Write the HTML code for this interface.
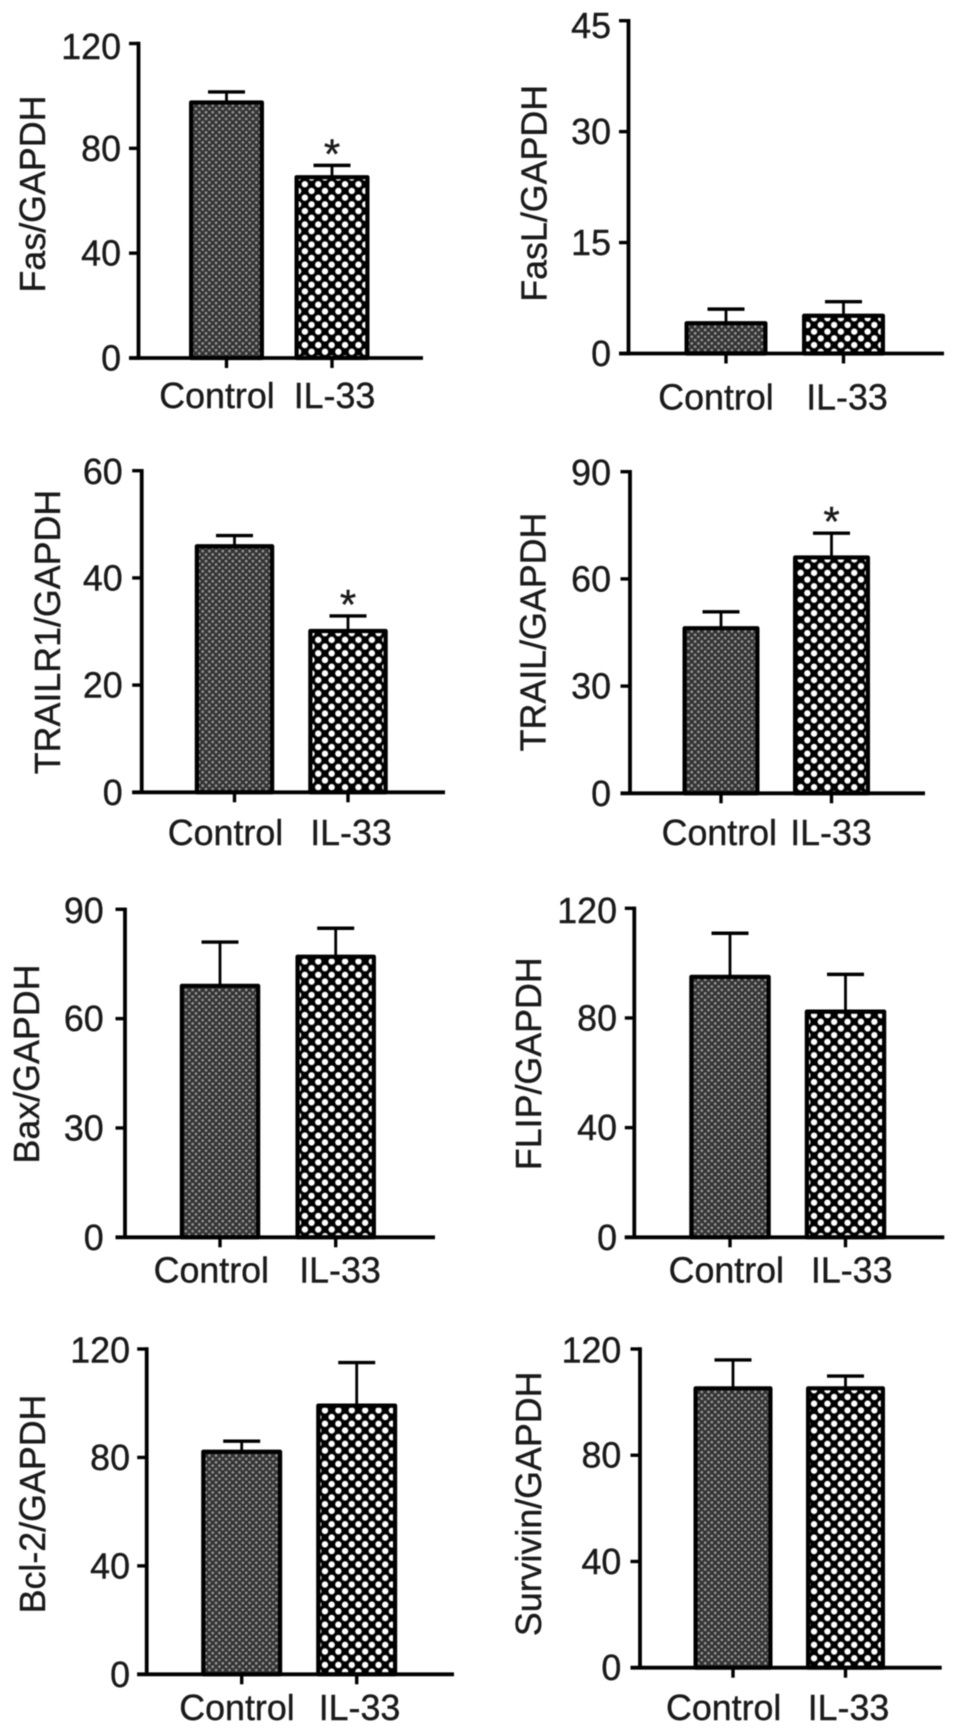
<!DOCTYPE html>
<html lang="en">
<head>
<meta charset="utf-8">
<title>Relative expression of apoptosis-related genes</title>
<style>
html,body{margin:0;padding:0;background:#fff;}
body{width:969px;height:1736px;overflow:hidden;}
svg{display:block;filter:blur(0.6px);}
text{font-family:"Liberation Sans",Arial,sans-serif;font-size:35.8px;fill:#1a1a1a;stroke:#1a1a1a;stroke-width:0.4px;}
</style>
</head>
<body>
<svg id="figure" xmlns="http://www.w3.org/2000/svg" width="969" height="1736" viewBox="0 0 969 1736">
  <defs>
    <pattern id="fill-control" patternUnits="userSpaceOnUse" width="6.7" height="6.7">
      <rect width="6.7" height="6.7" fill="#333"/>
      <circle cx="1.67" cy="1.67" r="1.35" fill="#999"/>
      <circle cx="5.02" cy="5.02" r="1.35" fill="#999"/>
    </pattern>
    <pattern id="fill-il33" patternUnits="userSpaceOnUse" width="13.4" height="13.4">
      <rect width="13.4" height="13.4" fill="#000"/>
      <circle cx="3.35" cy="3.35" r="3.2" fill="#fff"/>
      <circle cx="10.05" cy="10.05" r="3.2" fill="#fff"/>
    </pattern>
  </defs>
</svg>
<script>
// ---- Chart data ----
const categories = ["Control", "IL-33"];
const panelTitles = ["Fas/GAPDH", "FasL/GAPDH", "TRAILR1/GAPDH", "TRAIL/GAPDH", "Bax/GAPDH", "FLIP/GAPDH", "Bcl-2/GAPDH", "Survivin/GAPDH"];
const tickLabels = [
  [0, 40, 80, 120],
  [0, 15, 30, 45],
  [0, 20, 40, 60],
  [0, 30, 60, 90],
  [0, 30, 60, 90],
  [0, 40, 80, 120],
  [0, 40, 80, 120],
  [0, 40, 80, 120]
];
const controlValues = [97.5, 4.1, 45.9, 46.2, 69, 95, 82.1, 105.2];
const il33Values = [69, 5.1, 30.1, 66, 77, 82.3, 99.1, 105.2];
const controlErrors = [4, 1.9, 2, 4.6, 12, 15.9, 3.9, 10.7];
const il33Errors = [4.5, 1.9, 2.8, 6.8, 7.8, 13.6, 15.9, 4.6];
const significant = [[false, true], [false, false], [false, true], [false, true], [false, false], [false, false], [false, false], [false, false]];

// ---- Panel frames: axis geometry only ----
const frames = [
  {ax:138.5, top:43.5, base:358, end:423, c0:226.5, step:105.5, bw:75, tx:45, ty:194, lb:408, lc:[217,334.5], tr:119, topDy:3},
  {ax:628.5, top:20.7, base:353.5, end:944, c0:726, step:117.5, bw:83, tx:546.7, ty:193.3, lb:409.5, lc:[716,847], tr:609, topDy:5},
  {ax:141.7, top:470.7, base:792.3, end:445, c0:234.5, step:113.5, bw:79.5, tx:60, ty:632, lb:845, lc:[225.5,351], tr:120.7, topDy:1},
  {ax:630, top:471.7, base:793.3, end:925, c0:721, step:110.5, bw:77, tx:545.7, ty:632, lb:845, lc:[719.3,831], tr:609, topDy:1},
  {ax:125, top:909.3, base:1237.3, end:435, c0:220, step:115.7, bw:80.5, tx:39, ty:1064, lb:1282.7, lc:[211.3,340], tr:101.7, topDy:1},
  {ax:634.3, top:908.3, base:1237.3, end:944.3, c0:730, step:115.5, bw:81.5, tx:541, ty:1063.7, lb:1282.7, lc:[726.3,851.7], tr:615, topDy:2},
  {ax:146.7, top:1349, base:1674.3, end:454, c0:241.7, step:115, bw:81, tx:45, ty:1504, lb:1720, lc:[237,359.5], tr:128, topDy:1},
  {ax:640, top:1349, base:1667.7, end:941.7, c0:733, step:112.5, bw:79, tx:541, ty:1503.8, lb:1720, lc:[723.7,848.5], tr:619.3, topDy:1}
];

const SVG_NS = "http://www.w3.org/2000/svg";
const svg = document.getElementById("figure");

function make(tag, parent) {
  const el = document.createElementNS(SVG_NS, tag);
  parent.appendChild(el);
  return el;
}
function setAll(el, props) {
  for (const k in props) el.setAttribute(k, props[k]);
}
function line(parent, x1, y1, x2, y2, w) {
  const el = make("line", parent);
  setAll(el, {x1: x1, y1: y1, x2: x2, y2: y2, stroke: "#000", "stroke-width": w});
  return el;
}
function slug(s) {
  return s.toLowerCase().replace(/[^a-z0-9]+/g, "-");
}

panelTitles.forEach(function (title, p) {
  const f = frames[p];
  const ticks = tickLabels[p];
  const maxV = ticks[ticks.length - 1];
  const yScale = function (v) { return f.base - (v / maxV) * (f.base - f.top); };
  const xScale = function (i) { return f.c0 + i * f.step; };
  const key = slug(title);

  const g = make("g", svg);
  
  

  const values = [controlValues[p], il33Values[p]];
  const errors = [controlErrors[p], il33Errors[p]];

  categories.forEach(function (cat, i) {
    const cx = xScale(i);
    const name = key + "-" + slug(cat);

    const errLine = line(g, cx, yScale(values[i]), cx, yScale(values[i] + errors[i]), 2.8);
    
    

    const cap = line(g, cx - 18.5, yScale(values[i] + errors[i]), cx + 18.5, yScale(values[i] + errors[i]), 3.4);
    
    

    const bar = make("rect", g);
    setAll(bar, {
      x: cx - f.bw / 2 + 2.1,
      y: yScale(values[i]),
      width: f.bw - 4.2,
      height: f.base - yScale(values[i]),
      fill: i === 0 ? "url(#fill-control)" : "url(#fill-il33)",
      stroke: "#000",
      "stroke-width": 4.2,
      "stroke-linejoin": "round"
    });
    
    

    const xTick = line(g, cx, f.base, cx, f.base + 10, 3.4);
    
    

    const lab = make("text", g);
    setAll(lab, {x: f.lc[i], y: f.lb, "text-anchor": "middle"});
    lab.textContent = cat;
    
    

    if (significant[p][i]) {
      const star = make("text", g);
      setAll(star, {x: cx, y: yScale(values[i] + errors[i]) + 3, "text-anchor": "middle"});
      star.style.fontSize = "42px";
      star.textContent = "*";
      
      
    }
  });

  const yAxis = line(g, f.ax, f.top - 1.7, f.ax, f.base + 1.7, 3.8);
  
  

  const xAxis = line(g, f.ax - 9.5, f.base, f.end, f.base, 3.8);
  
  

  ticks.forEach(function (t, ti) {
    const tk = line(g, f.ax - 9.5, yScale(t), f.ax, yScale(t), 3.4);
    
    

    const tl = make("text", g);
    setAll(tl, {x: f.tr + 2, y: yScale(t) + 12.5 + (ti === ticks.length - 1 ? f.topDy : 0), "text-anchor": "end"});
    tl.textContent = String(t);
    
    
  });

  const yt = make("text", g);
  setAll(yt, {
    x: f.tx,
    y: f.ty,
    "text-anchor": "middle",
    transform: "rotate(-90 " + f.tx + " " + f.ty + ")"
  });
  yt.textContent = title;
  
  
});
</script>
</body>
</html>
